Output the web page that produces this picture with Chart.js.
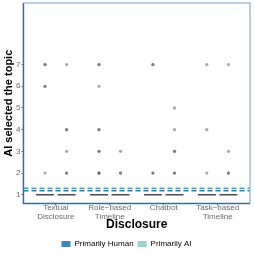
<!DOCTYPE html>
<html>
<head>
<meta charset="utf-8">
<script src="https://cdn.jsdelivr.net/npm/chart.js@4"></script>
<style>
  body { margin: 0; background: #fff; }
  #wrap { width: 254px; height: 254px; }
</style>
</head>
<body>
<div id="wrap"><canvas id="myChart" width="254" height="254"></canvas></div>
<script>
// categories on the x axis
const categories = [['Textual', 'Disclosure'], ['Role\u2212based', 'Timeline'], ['Chatbot'], ['Task\u2212based', 'Timeline']];
const groups = ['Primarily Human', 'Primarily AI'];
const groupColors = ['#3b86c2', '#93d6cc'];

// medians (boxes collapse onto 1)
const humanMedian = [1, 1, 1, 1];
const aiMedian = [1, 1, 1, 1];

// outliers per category (repeats = overlapping points)
const humanOutliers = [[7, 7, 6, 6, 2], [7, 7, 6, 4, 4, 3, 3, 2, 2, 2], [7, 7, 2, 2], [7, 4, 2]];
const aiOutliers = [[7, 4, 4, 3, 2, 2], [3, 2, 2], [5, 4, 3, 3, 2, 2], [7, 3, 2, 2]];

// dashed reference lines (group means)
const refLines = [1.3, 1.18];
const refColors = ['#3aaea6', '#2f7db5'];

const yTicks = [1, 2, 3, 4, 5, 6, 7];
const dodge = 0.2;

const toPoints = (lists, off) => lists.flatMap((vals, i) => vals.map(v => ({ x: i + 1 + off, y: v })));
const toMedians = (meds, off) => meds.map((v, i) => ({ x: i + 1 + off, y: v }));

const panelPlugin = {
  id: 'panel',
  beforeDatasetsDraw(chart) {
    const { ctx, chartArea: a, scales } = chart;
    ctx.save();
    ctx.lineWidth = 1.6;
    refLines.forEach((v, i) => {
      const y = scales.y.getPixelForValue(v);
      ctx.strokeStyle = refColors[i];
      ctx.setLineDash([5, 3]);
      ctx.beginPath();
      ctx.moveTo(a.left, y);
      ctx.lineTo(a.right, y);
      ctx.stroke();
    });
    ctx.restore();
  },
  afterDraw(chart) {
    const { ctx, chartArea: a } = chart;
    ctx.save();
    ctx.lineWidth = 1.5;
    ctx.strokeStyle = '#9cc0e0';
    ctx.beginPath();
    ctx.moveTo(a.left, a.top);
    ctx.lineTo(a.right, a.top);
    ctx.lineTo(a.right, a.bottom);
    ctx.stroke();
    ctx.strokeStyle = '#2a6fb0';
    ctx.beginPath();
    ctx.moveTo(a.left, a.top);
    ctx.lineTo(a.left, a.bottom);
    ctx.lineTo(a.right, a.bottom);
    ctx.stroke();
    ctx.restore();
  }
};

const pointStyle = { pointRadius: 1.6, pointHoverRadius: 1.6, pointBackgroundColor: 'rgba(75,85,95,0.5)', pointBorderWidth: 0, showLine: false };
const medianStyle = { pointStyle: 'line', pointRadius: 9, pointHoverRadius: 9, pointBorderColor: '#4a4a4a', pointBorderWidth: 1.6, showLine: false };

let ctx = document.getElementById('myChart');
let chart = new Chart(ctx, {
  type: 'scatter',
  data: {
    datasets: [
      { label: groups[0] + ' median', data: toMedians(humanMedian, -dodge), ...medianStyle },
      { label: groups[1] + ' median', data: toMedians(aiMedian, dodge), ...medianStyle },
      { label: groups[0], data: toPoints(humanOutliers, -dodge), ...pointStyle },
      { label: groups[1], data: toPoints(aiOutliers, dodge), ...pointStyle }
    ]
  },
  options: {
    responsive: false,
    animation: false,
    layout: { autoPadding: false, padding: { left: 3, right: 4, top: 3, bottom: -4 } },
    scales: {
      x: {
        type: 'linear', min: 0.4, max: 4.6,
        afterBuildTicks: s => { s.ticks = categories.map((c, i) => ({ value: i + 1 })); },
        ticks: { callback: (v, i) => categories[i], font: { size: 8, family: 'Liberation Sans', lineHeight: 1.1 }, color: '#6b6b6b', padding: -2, maxRotation: 0, autoSkip: false },
        grid: { drawOnChartArea: false, tickLength: 2, color: '#777' },
        border: { display: false },
        title: { display: true, text: 'Disclosure', font: { size: 12, weight: 'bold', family: 'Liberation Sans', lineHeight: 1 }, color: '#000', padding: { top: 0, bottom: 5 } }
      },
      y: {
        min: 0.6, max: 9.84,
        afterBuildTicks: s => { s.ticks = yTicks.map(v => ({ value: v })); },
        afterFit: s => { s.paddingTop = 0; s.paddingBottom = 0; },
        ticks: { font: { size: 8, family: 'Liberation Sans' }, color: '#6b6b6b', padding: 1 },
        grid: { drawOnChartArea: false, tickLength: 2, color: '#777' },
        border: { display: false },
        title: { display: true, text: 'AI selected the topic', font: { size: 11, weight: 'bold', family: 'Liberation Sans', lineHeight: 1 }, color: '#000', padding: { top: 0, bottom: 1 } }
      }
    },
    plugins: {
      tooltip: { enabled: false },
      legend: {
        position: 'bottom',
        labels: {
          boxWidth: 9, boxHeight: 6, padding: 4,
          font: { size: 8, family: 'Liberation Sans' }, color: '#222',
          generateLabels: () => groups.map((g, i) => ({ text: g, fillStyle: groupColors[i], strokeStyle: groupColors[i], lineWidth: 0, datasetIndex: i + 2 }))
        }
      }
    }
  },
  plugins: [panelPlugin]
});
</script>
</body>
</html>
